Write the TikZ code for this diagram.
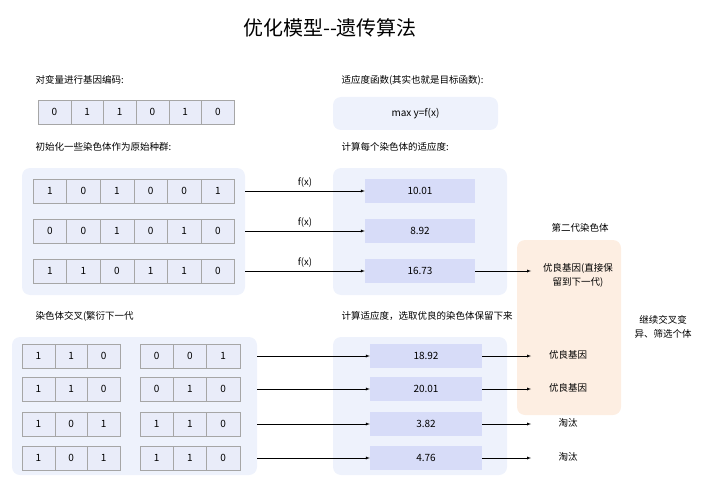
\documentclass[tikz,border=0pt]{standalone}
\usepackage{fontspec}
\setmainfont{Noto Sans CJK SC}
\usetikzlibrary{positioning}

\definecolor{bgblue}{HTML}{EEF2FC}
\definecolor{cellblue}{HTML}{E9ECF9}
\definecolor{valblue}{HTML}{D7DCF8}
\definecolor{bgorange}{HTML}{FDEEE2}

\tikzset{
  cell/.style={draw=gray!70, fill=cellblue, minimum height=24pt, inner sep=0pt, font=\fontsize{10}{12}\selectfont},
  val/.style={fill=valblue, minimum width=110pt, minimum height=24pt, inner sep=0pt, font=\fontsize{10}{12}\selectfont},
  panel/.style={fill=bgblue, rounded corners=8pt},
  lbl/.style={anchor=west, font=\fontsize{9.5}{12}\selectfont},
  arr/.style={-latex, thin},
}

\begin{document}
\begin{tikzpicture}[x=1pt, y=-1pt]
  \useasboundingbox (0,0) rectangle (701,500);

  \node (title) at (330,28) {\fontsize{20}{24}\selectfont 优化模型{-}{-}遗传算法};

  % gene coding
  \node[lbl] (codetxt) at (32,80) {对变量进行基因编码:};
  \foreach \v [count=\i] in {0,1,1,0,1,0}
    \node[cell, minimum width=32.7pt] (g\i) at (38+32.7*\i-16.35,112) {\v};

  % objective
  \node[lbl] (fittxt) at (338,80) {适应度函数(其实也就是目标函数):};
  \node[panel, minimum width=165pt, minimum height=33pt] (obj) at (415.5,113.5) {\fontsize{10}{12}\selectfont max y=f(x)};

  % initial population
  \node[lbl] (inittxt) at (32,147) {初始化一些染色体作为原始种群:};
  \node[lbl] (calctxt) at (338,147) {计算每个染色体的适应度:};
  \fill[bgblue, rounded corners=8pt] (22,168) rectangle (245,295);
  \fill[bgblue, rounded corners=8pt] (333,168) rectangle (507,295);
  \foreach \row/\y/\f in {{1,0,1,0,0,1}/191/10.01, {0,0,1,0,1,0}/231/8.92, {1,1,0,1,1,0}/271/16.73} {
    \foreach \v [count=\i] in \row
      \node[cell, minimum width=33.6pt] (p\y c\i) at (33+33.6*\i-16.8,\y) {\v};
    \node[val] (fit\y) at (420,\y) {\f};
    \coordinate (src\y) at (245,\y);
    \draw[arr] (src\y) -- node[above, font=\fontsize{9.5}{12}\selectfont] {f(x)} (fit\y);
  }

  % second generation
  \fill[bgorange, rounded corners=8pt] (517,240) rectangle (621,415);
  \node (gen2) at (580,228) {\fontsize{9.5}{12}\selectfont 第二代染色体};
  \node[align=center, font=\fontsize{9.5}{14}\selectfont] (keep) at (578,275) {优良基因(直接保\\留到下一代)};
  \coordinate (keepin) at (531,271);
  \draw[arr] (fit271) -- (keepin);
  \node[align=center, font=\fontsize{9.5}{14}\selectfont] (cont) at (663,327) {继续交叉变\\异、筛选个体};

  % crossover
  \node[lbl] (crosstxt) at (32,316) {染色体交叉(繁衍下一代};
  \node[lbl] (seltxt) at (338,316) {计算适应度，选取优良的染色体保留下来};
  \fill[bgblue, rounded corners=8pt] (12,337) rectangle (257,475);
  \fill[bgblue, rounded corners=8pt] (333,337) rectangle (507,475);
  \foreach \la/\rb/\y/\f/\res in {{1,1,0}/{0,0,1}/356/18.92/优良基因, {1,1,0}/{0,1,0}/389/20.01/优良基因,
                                  {1,0,1}/{1,1,0}/424/3.82/淘汰, {1,0,1}/{1,1,0}/458/4.76/淘汰} {
    \foreach \v [count=\i] in \la
      \node[cell, minimum width=32.7pt] (ca\y c\i) at (22+32.7*\i-16.35,\y) {\v};
    \foreach \v [count=\i] in \rb
      \node[cell, minimum width=33.3pt] (cb\y c\i) at (140+33.3*\i-16.65,\y) {\v};
    \node[val, minimum width=112pt] (sel\y) at (426,\y) {\f};
    \coordinate (cs\y) at (257,\y);
    \draw[arr] (cs\y) -- (sel\y);
    \node[font=\fontsize{9.5}{12}\selectfont] (res\y) at (568,\y-1) {\res};
    \coordinate (re\y) at (531,\y);
    \draw[arr] (sel\y) -- (re\y);
  }
\end{tikzpicture}
\end{document}
